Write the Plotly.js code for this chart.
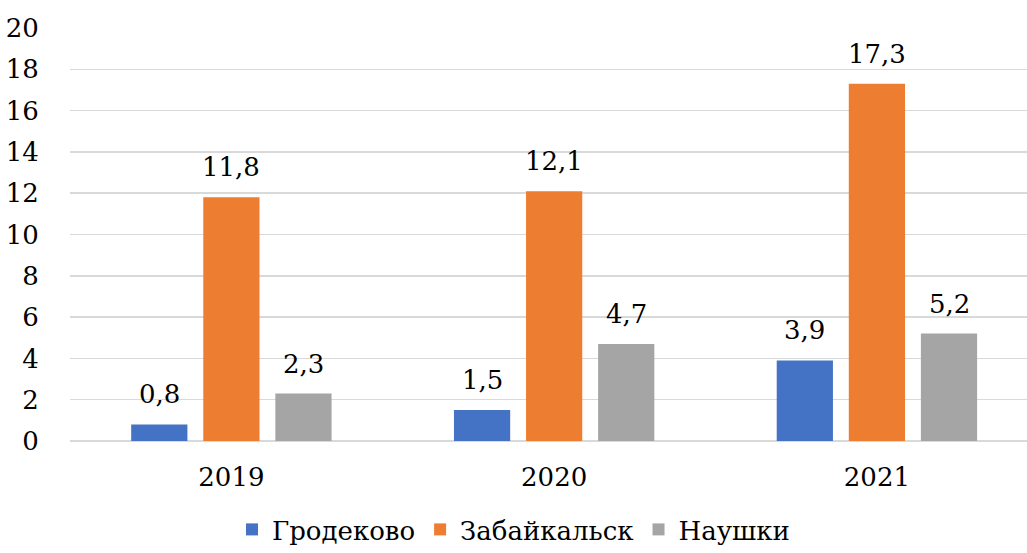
<!DOCTYPE html>
<html>
<head>
<meta charset="utf-8">
<script src="https://cdn.plot.ly/plotly-3.0.1.min.js"></script>
<style>
html,body{margin:0;padding:0;background:#fff;overflow:hidden;}
#chart{width:1027px;height:553px;}
</style>
</head>
<body>
<div id="chart"></div>
<script>
var years = ['2019', '2020', '2021'];
var grodekovo = [0.8, 1.5, 3.9];
var zabaikalsk = [11.8, 12.1, 17.3];
var naushki = [2.3, 4.7, 5.2];
var seriesNames = ['Гродеково', 'Забайкальск', 'Наушки'];
var colors = ['#4472C4', '#ED7D31', '#A5A5A5'];
var yTicks = [0, 2, 4, 6, 8, 10, 12, 14, 16, 18, 20];

function fmt(v) { return v.toFixed(1).replace('.', ','); }
function F() { return {family: 'DejaVu Serif', size: 26, color: '#000000'}; }

var series = [grodekovo, zabaikalsk, naushki];
var bargap = 0.33;
var data = series.map(function (vals, i) {
  return {
    type: 'bar', x: years, y: vals, name: seriesNames[i],
    marker: {color: colors[i]}, hoverinfo: 'none'
  };
});

// value labels above each bar, aligned with the grouped bar slots
var slot = (1 - bargap) / series.length;
var annotations = [];
series.forEach(function (vals, i) {
  vals.forEach(function (v, j) {
    annotations.push({
      xref: 'x', yref: 'y', x: j + (i - (series.length - 1) / 2) * slot, y: v,
      text: fmt(v), showarrow: false, xanchor: 'center', yanchor: 'bottom',
      yshift: 13, font: F()
    });
  });
});

var layout = {
  width: 1027, height: 553,
  margin: {l: 70, r: 0, t: 28, b: 112},
  paper_bgcolor: '#fff', plot_bgcolor: '#fff',
  font: F(),
  barmode: 'group', bargap: bargap, bargroupgap: 0.22,
  annotations: annotations,
  xaxis: {type: 'category', range: [-0.5, 2.465], showgrid: false, zeroline: false,
          showline: false, ticks: 'outside', ticklen: 13, tickcolor: 'rgba(0,0,0,0)', tickfont: F()},
  yaxis: {range: [0, 20], tickvals: yTicks, ticktext: yTicks.map(String),
          showgrid: true, gridcolor: '#d9d9d9', gridwidth: 1.5,
          zeroline: true, zerolinecolor: '#d9d9d9', zerolinewidth: 1.5,
          showline: false, ticks: 'outside', ticklen: 25, tickcolor: 'rgba(0,0,0,0)', tickfont: F()},
  showlegend: true,
  legend: {orientation: 'h', x: 0.5, xanchor: 'center', xref: 'container',
           y: 0, yref: 'container', yanchor: 'bottom',
           font: F(), itemwidth: 30, traceorder: 'normal'}
};

Plotly.newPlot('chart', data, layout, {staticPlot: true, displayModeBar: false});
</script>
</body>
</html>
